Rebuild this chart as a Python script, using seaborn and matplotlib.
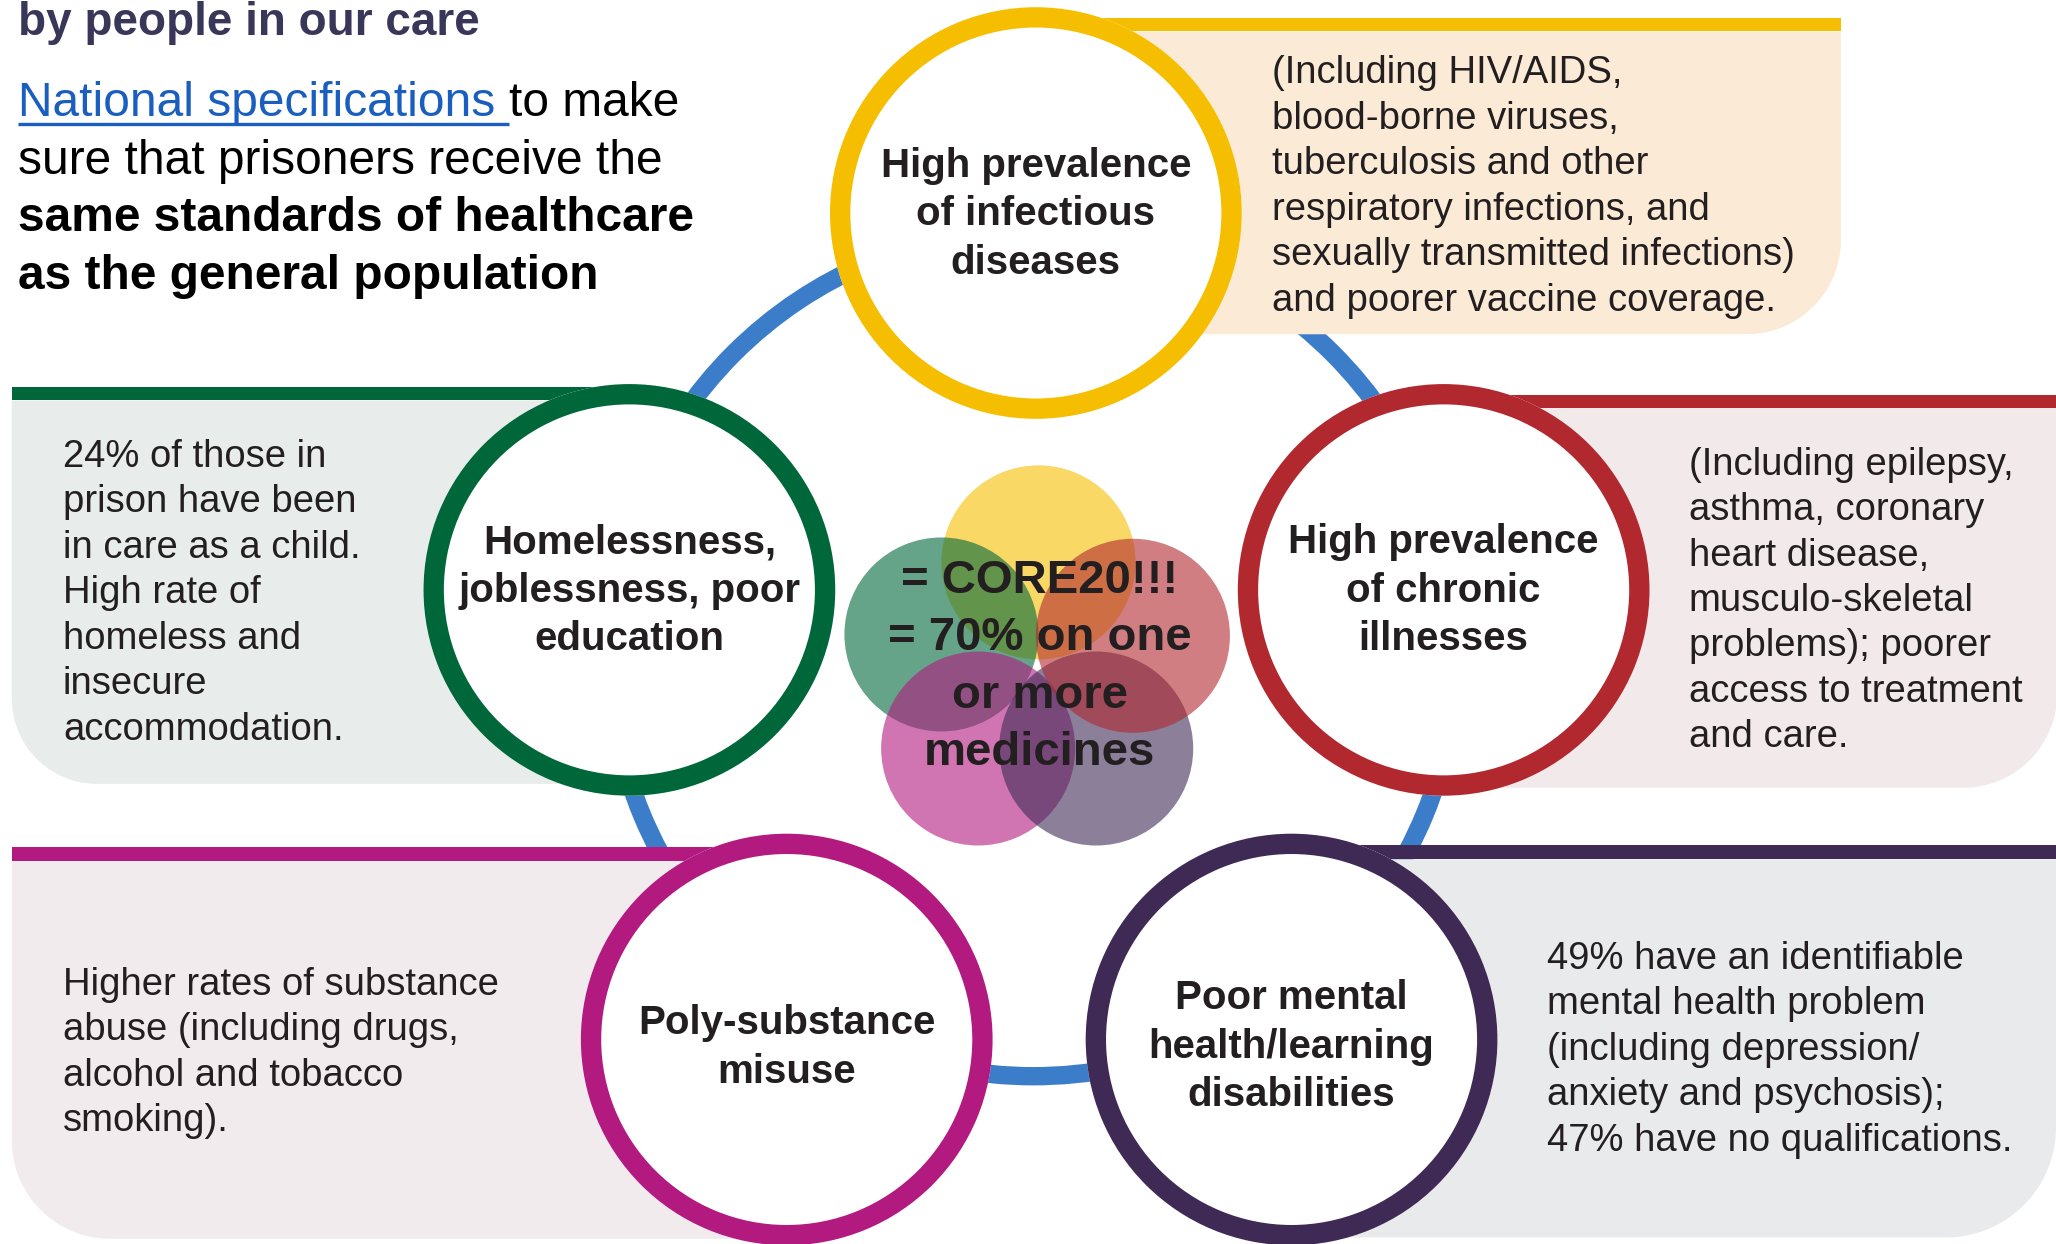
import numpy as np
import matplotlib
matplotlib.use("Agg")
import matplotlib.pyplot as plt
import seaborn as sns
from matplotlib.patches import Circle, Wedge, Rectangle, Polygon

# ------------------------------------------------------------------
# content
# ------------------------------------------------------------------
title = "by people in our care"
link_text = "National specifications "
intro_plain = ["to make", "sure that prisoners receive the"]
intro_bold = ["same standards of healthcare", "as the general population"]

themes = ["infectious", "homeless", "chronic", "substance", "mental"]

infectious_title = ["High prevalence", "of infectious", "diseases"]
infectious_text = ["(Including HIV/AIDS,", "blood-borne viruses,",
                   "tuberculosis and other", "respiratory infections, and",
                   "sexually transmitted infections)",
                   "and poorer vaccine coverage."]

homeless_title = ["Homelessness,", "joblessness, poor", "education"]
homeless_text = ["24% of those in", "prison have been", "in care as a child.",
                 "High rate of", "homeless and", "insecure", "accommodation."]

chronic_title = ["High prevalence", "of chronic", "illnesses"]
chronic_text = ["(Including epilepsy,", "asthma, coronary", "heart disease,",
                "musculo-skeletal", "problems); poorer",
                "access to treatment", "and care."]

substance_title = ["Poly-substance", "misuse"]
substance_text = ["Higher rates of substance", "abuse (including drugs,",
                  "alcohol and tobacco", "smoking)."]

mental_title = ["Poor mental", "health/learning", "disabilities"]
mental_text = ["49% have an identifiable", "mental health problem",
               "(including depression/", "anxiety and psychosis);",
               "47% have no qualifications."]

core_text = ["= CORE20!!!", "= 70% on one", "or more", "medicines"]

titles = {"infectious": infectious_title, "homeless": homeless_title,
          "chronic": chronic_title, "substance": substance_title,
          "mental": mental_title}
texts = {"infectious": infectious_text, "homeless": homeless_text,
         "chronic": chronic_text, "substance": substance_text,
         "mental": mental_text}

# ------------------------------------------------------------------
# styles
# ------------------------------------------------------------------
ring_col = {"infectious": "#f5be00", "homeless": "#00673a",
            "chronic": "#b1282f", "substance": "#b21a80",
            "mental": "#3e2a55"}
box_col = {"infectious": "#fbebd6", "homeless": "#e8ecea",
           "chronic": "#f2eaea", "substance": "#f1ebee",
           "mental": "#e9eaec"}
link_col = "#1a5fbf"
blue_ring = "#3b7dc9"
ink = "#231f20"

# ------------------------------------------------------------------
# layout (canvas units, y down)
# ------------------------------------------------------------------
W, H = 1568, 949
centre = {"infectious": (790, 162.5), "homeless": (480, 450),
          "chronic": (1101, 450), "substance": (600, 793),
          "mental": (985, 793)}
R_big, ring_w = 157, 15.5
# panel: x0, x1, bar top, bar bottom, panel bottom, corner radius, corner
panel = {"infectious": (790, 1404, 14, 24, 255, 72, "br"),
         "homeless": (9, 480, 295.5, 305.5, 598, 65, "bl"),
         "chronic": (1101, 1569, 301, 311, 601, 72, "br"),
         "substance": (9, 600, 646, 656.5, 945, 75, "bl"),
         "mental": (985, 1568, 644.5, 655.5, 944, 84, "br")}
# detail text: left x, first baseline
text_pos = {"infectious": (970, 63.5), "homeless": (48, 356),
            "chronic": (1288, 362), "substance": (48, 759),
            "mental": (1180, 739)}
title_base = {"infectious": 135, "homeless": 422, "chronic": 422,
              "substance": 789, "mental": 770}
venn_order = ["infectious", "homeless", "substance", "mental", "chronic"]
venn_c = {"infectious": (792, 429), "homeless": (718, 484),
          "chronic": (864, 485), "substance": (746, 571),
          "mental": (836, 571)}

sns.set_theme(style="white")
plt.rcParams["font.family"] = ["Liberation Sans", "DejaVu Sans"]

fig = plt.figure(figsize=(20.56, 12.44), dpi=100)
ax = fig.add_axes([0, 0, 1, 1])
ax.set_xlim(0, W)
ax.set_ylim(H, 0)
ax.axis("off")


def panel_shape(x0, x1, y0, y1, r, corner):
    t = np.linspace(0, np.pi / 2, 40)
    if corner == "bl":
        cx, cy = x0 + r, y1 - r
        arc = list(zip(cx - r * np.sin(t), cy + r * np.cos(t)))
        pts = [(x0, y0), (x1, y0), (x1, y1)] + arc
    else:
        cx, cy = x1 - r, y1 - r
        arc = list(zip(cx + r * np.cos(t), cy + r * np.sin(t)))
        pts = [(x0, y0), (x1, y0)] + arc + [(x0, y1)]
    return Polygon(pts, closed=True)


# connecting blue ring
ax.add_patch(Wedge((788, 498), 330, 0, 360, width=14, color=blue_ring,
                   zorder=1, lw=0))

for k in themes:
    x0, x1, bt, bb, yb, r, corner = panel[k]
    p = panel_shape(x0, x1, bb, yb, r, corner)
    p.set_facecolor(box_col[k])
    p.set_edgecolor("none")
    p.set_zorder(2)
    ax.add_patch(p)
    ax.add_patch(Rectangle((x0, bt), x1 - x0, bb - bt, color=ring_col[k],
                           lw=0, zorder=3))
    cx, cy = centre[k]
    ax.add_patch(Circle((cx, cy), R_big, color="white", lw=0, zorder=4))
    ax.add_patch(Wedge((cx, cy), R_big, 0, 360, width=ring_w,
                       color=ring_col[k], lw=0, zorder=4.5))
    # circle heading
    for i, line in enumerate(titles[k]):
        ax.text(cx, title_base[k] + i * 37, line, ha="center",
                va="baseline", fontsize=29, fontweight="bold", color=ink,
                zorder=6)
    tx, ty = text_pos[k]
    for i, line in enumerate(texts[k]):
        ax.text(tx, ty + i * 34.7, line, ha="left", va="baseline",
                fontsize=27.5, color=ink, zorder=6)

# central overlapping circles
for k in venn_order:
    ax.add_patch(Circle(venn_c[k], 74, color=ring_col[k], alpha=0.6, lw=0,
                        zorder=5))
for i, line in enumerate(core_text):
    ax.text(793, 452.5 + i * 43.7, line, ha="center", va="baseline",
            fontsize=34, fontweight="bold", color=ink, zorder=6)

# heading + intro paragraph
ax.text(14, 26.5, title, ha="left", va="baseline", fontsize=33,
        fontweight="bold", color="#38375a", zorder=6)

t_link = ax.text(14, 88.5, link_text, ha="left", va="baseline",
                 fontsize=34.5, color=link_col, zorder=6)
fig.canvas.draw()
rend = fig.canvas.get_renderer()
bb = t_link.get_window_extent(rend)
x_end = ax.transData.inverted().transform((bb.x1, bb.y0))[0]
ax.plot([14, x_end], [94.4, 94.4], color=link_col, lw=2.4, zorder=6,
        solid_capstyle="butt")
ax.text(x_end, 88.5, intro_plain[0], ha="left", va="baseline",
        fontsize=34.5, color="black", zorder=6)
ax.text(14, 88.5 + 44, intro_plain[1], ha="left", va="baseline",
        fontsize=34.5, color="black", zorder=6)
for i, line in enumerate(intro_bold):
    ax.text(14, 88.5 + (i + 2) * 44, line, ha="left", va="baseline",
            fontsize=34.5, fontweight="bold", color="black", zorder=6)

fig.savefig("out.png", dpi=100, facecolor="white")
